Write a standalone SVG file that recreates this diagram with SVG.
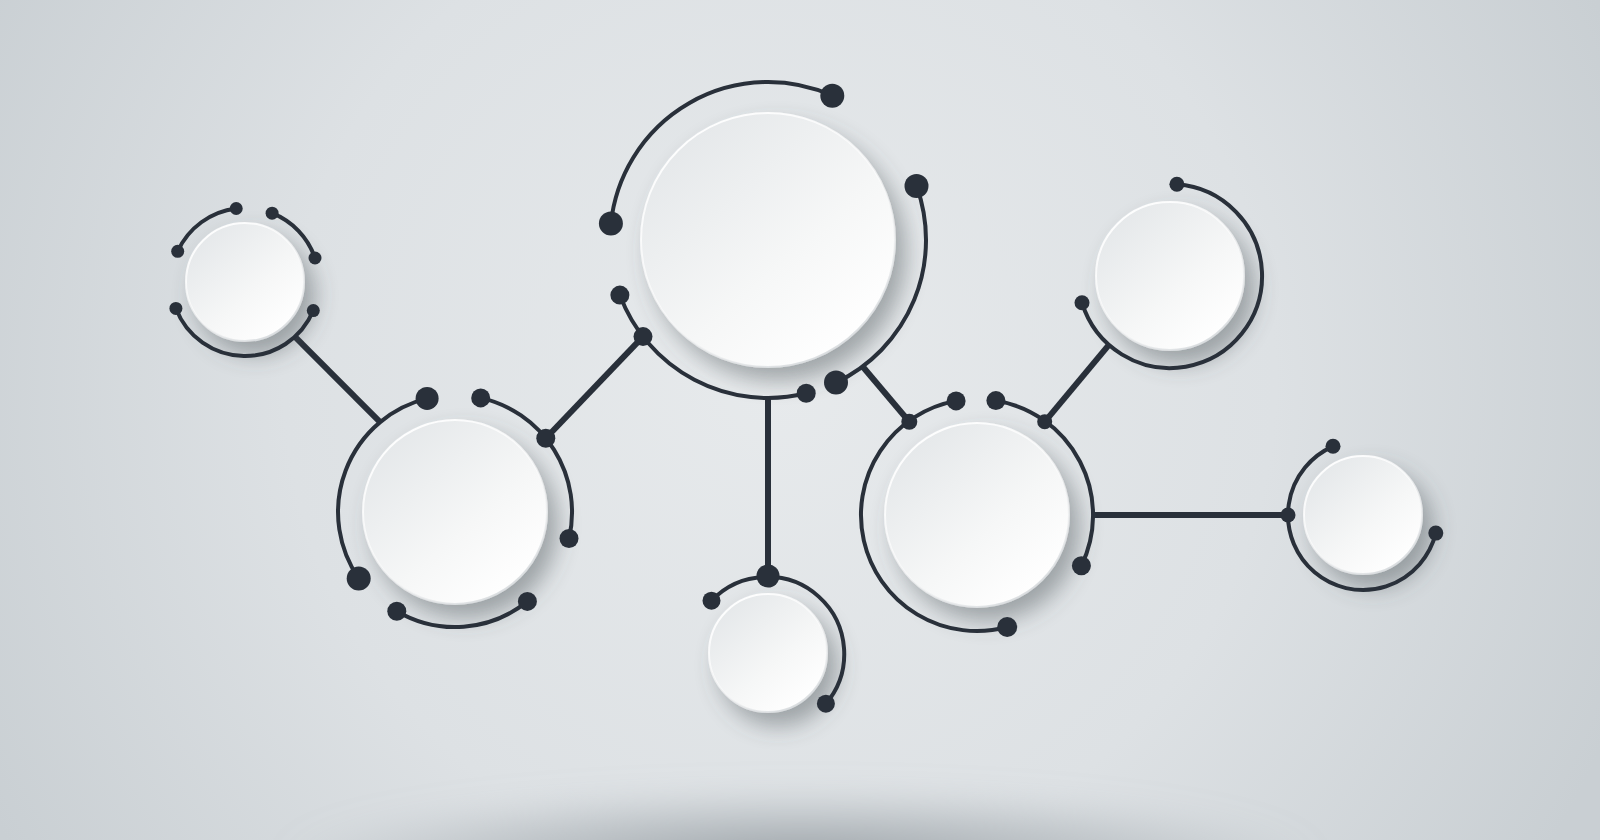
<svg xmlns="http://www.w3.org/2000/svg" width="1600" height="840" viewBox="0 0 1600 840">
<defs>
<radialGradient id="bg" cx="780" cy="380" r="900" gradientUnits="userSpaceOnUse">
<stop offset="0" stop-color="#e7eaec"/>
<stop offset="0.55" stop-color="#dde1e4"/>
<stop offset="1" stop-color="#c9cfd3"/>
</radialGradient>
<radialGradient id="floor" cx="0.5" cy="0.5" r="0.5">
<stop offset="0" stop-color="#959ca1" stop-opacity="0.95"/>
<stop offset="0.6" stop-color="#a3aaaf" stop-opacity="0.5"/>
<stop offset="1" stop-color="#a3aaaf" stop-opacity="0"/>
</radialGradient>
<linearGradient id="disc" x1="0.15" y1="0.1" x2="0.85" y2="0.9">
<stop offset="0" stop-color="#e5e8ea"/>
<stop offset="0.6" stop-color="#f6f7f7"/>
<stop offset="1" stop-color="#ffffff"/>
</linearGradient>
<linearGradient id="rim" x1="0.2" y1="0" x2="0.8" y2="1">
<stop offset="0" stop-color="#ffffff"/>
<stop offset="0.5" stop-color="#ffffff" stop-opacity="0.6"/>
<stop offset="1" stop-color="#d4d8db"/>
</linearGradient>
<filter id="shadow" x="-40%" y="-40%" width="190%" height="190%">
<feDropShadow dx="10" dy="13" stdDeviation="11" flood-color="#4a5258" flood-opacity="0.45"/>
</filter>
<filter id="blur" x="-20%" y="-200%" width="140%" height="500%">
<feGaussianBlur stdDeviation="16"/>
</filter>
</defs>
<style>
.disc{fill:url(#disc);stroke:url(#rim);stroke-width:2;filter:url(#shadow)}
.orb{fill:none;stroke:#29303a;stroke-width:4;stroke-linecap:round}
.link{fill:none;stroke:#29303a;stroke-width:6}
.dot{fill:#29303a}
</style>
<rect width="1600" height="840" fill="url(#bg)"/>
<ellipse cx="800" cy="860" rx="520" ry="70" fill="url(#floor)" filter="url(#blur)"/>

<g id="connectors">
<line class="link" x1="294.8" y1="336.7" x2="380.1" y2="422.1"/>
<line class="link" x1="545.8" y1="438.2" x2="643" y2="336.6"/>
<line class="link" x1="768" y1="398" x2="768" y2="576"/>
<line class="link" x1="862.6" y1="366.5" x2="909.3" y2="421.8"/>
<line class="link" x1="1044.7" y1="421.8" x2="1108.9" y2="344.8"/>
<line class="link" x1="1093" y1="515" x2="1288" y2="515"/>
</g>

<g id="node-top-left">
<circle class="disc" cx="245" cy="282" r="59"/>
<path class="orb" d="M177.7,251.3 A74,74 0 0 1 236.2,208.5"/>
<path class="orb" d="M272.1,213.2 A74,74 0 0 1 315,258"/>
<path class="orb" d="M313.3,310.6 A74,74 0 0 1 175.9,308.4"/>
<circle class="dot" cx="177.7" cy="251.3" r="6.5"/>
<circle class="dot" cx="236.2" cy="208.5" r="6.5"/>
<circle class="dot" cx="272.1" cy="213.2" r="6.5"/>
<circle class="dot" cx="315" cy="258" r="6.5"/>
<circle class="dot" cx="313.3" cy="310.6" r="6.5"/>
<circle class="dot" cx="175.9" cy="308.4" r="6.5"/>
</g>

<g id="node-left">
<circle class="disc" cx="455" cy="512" r="92"/>
<path class="orb" d="M358.7,578.4 A117,117 0 0 1 427.1,398.4"/>
<path class="orb" d="M480.7,397.9 A117,117 0 0 1 569,538.5"/>
<path class="orb" d="M527.4,601.4 A115,115 0 0 1 396.8,611.2"/>
<circle class="dot" cx="427.1" cy="398.4" r="11.5"/>
<circle class="dot" cx="358.7" cy="578.4" r="12"/>
<circle class="dot" cx="480.7" cy="397.9" r="9.5"/>
<circle class="dot" cx="545.8" cy="438.2" r="9.5"/>
<circle class="dot" cx="569" cy="538.5" r="9.5"/>
<circle class="dot" cx="527.4" cy="601.4" r="9.5"/>
<circle class="dot" cx="396.8" cy="611.2" r="9.5"/>
</g>

<g id="node-center">
<circle class="disc" cx="768" cy="240" r="127"/>
<path class="orb" d="M610.9,223.5 A158,158 0 0 1 832.3,95.7"/>
<path class="orb" d="M916.5,186 A158,158 0 0 1 836,382.6"/>
<path class="orb" d="M806.2,393.3 A158,158 0 0 1 619.9,295.1"/>
<circle class="dot" cx="610.9" cy="223.5" r="12"/>
<circle class="dot" cx="832.3" cy="95.7" r="12"/>
<circle class="dot" cx="916.5" cy="186" r="12"/>
<circle class="dot" cx="836" cy="382.6" r="12"/>
<circle class="dot" cx="806.2" cy="393.3" r="9.5"/>
<circle class="dot" cx="619.9" cy="295.1" r="9.5"/>
<circle class="dot" cx="643" cy="336.6" r="9.5"/>
</g>

<g id="node-bottom">
<circle class="disc" cx="768" cy="653" r="59"/>
<path class="orb" d="M711.5,600.7 A77,77 0 0 1 825.9,703.7"/>
<circle class="dot" cx="711.5" cy="600.7" r="9"/>
<circle class="dot" cx="825.9" cy="703.7" r="9"/>
<circle class="dot" cx="768" cy="576" r="11.5"/>
</g>

<g id="node-right">
<circle class="disc" cx="977" cy="515" r="92"/>
<path class="orb" d="M1007.2,627 A116,116 0 1 1 956.1,400.9"/>
<path class="orb" d="M995.9,400.6 A116,116 0 0 1 1081.4,565.7"/>
<circle class="dot" cx="1007.2" cy="627" r="10"/>
<circle class="dot" cx="956.1" cy="400.9" r="9.5"/>
<circle class="dot" cx="995.9" cy="400.6" r="9.5"/>
<circle class="dot" cx="1081.4" cy="565.7" r="9.5"/>
<circle class="dot" cx="909.3" cy="421.8" r="8"/>
<circle class="dot" cx="1044.7" cy="421.8" r="7.5"/>
</g>

<g id="node-top-right">
<circle class="disc" cx="1170" cy="276" r="74"/>
<path class="orb" d="M1176.9,184.3 A92,92 0 1 1 1082,302.7"/>
<circle class="dot" cx="1176.9" cy="184.3" r="7.5"/>
<circle class="dot" cx="1082" cy="302.7" r="7.5"/>
</g>

<g id="node-far-right">
<circle class="disc" cx="1363" cy="515" r="59"/>
<path class="orb" d="M1435.8,533.1 A75,75 0 1 1 1333,446.3"/>
<circle class="dot" cx="1435.8" cy="533.1" r="7.5"/>
<circle class="dot" cx="1333" cy="446.3" r="7.5"/>
<circle class="dot" cx="1288" cy="515" r="7.5"/>
</g>
</svg>
